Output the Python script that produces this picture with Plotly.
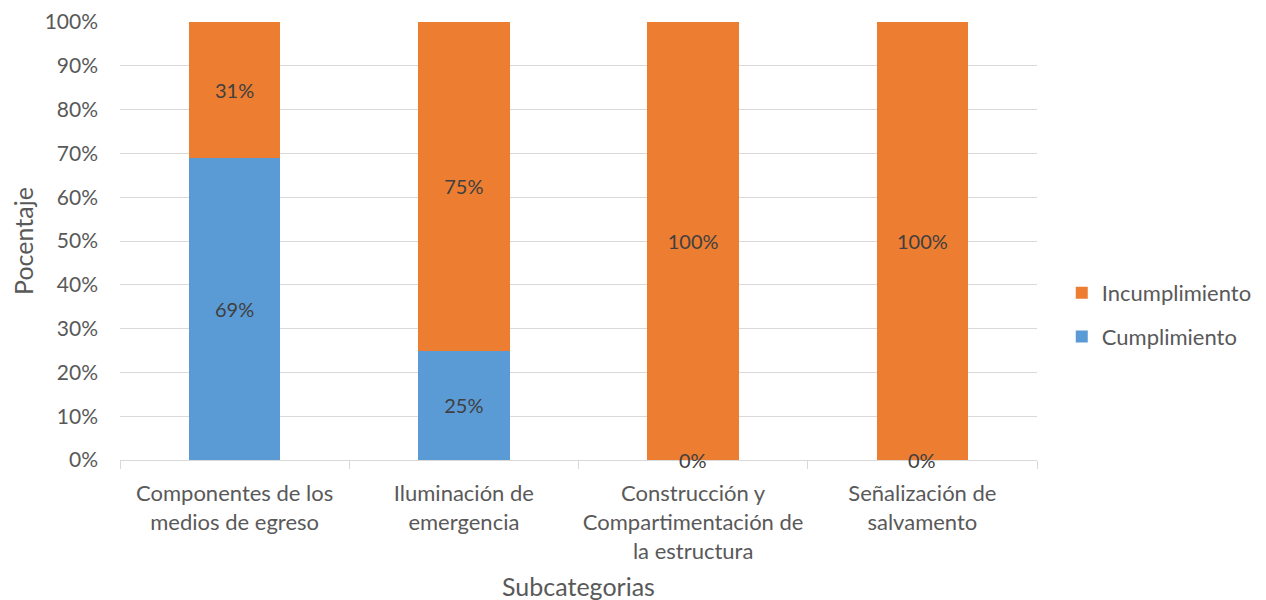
import plotly.graph_objects as go

categories = [
    "Componentes de los<br>medios de egreso",
    "Iluminación de<br>emergencia",
    "Construcción y<br>Compartimentación de<br>la estructura",
    "Señalización de<br>salvamento",
]
cumplimiento = [69, 25, 0, 0]
incumplimiento = [31, 75, 100, 100]
y_ticks = [0, 10, 20, 30, 40, 50, 60, 70, 80, 90, 100]

FONT = "Lato"
TXT = "#595959"
LBL = "#404040"

fig = go.Figure()
fig.add_trace(go.Bar(
    x=categories, y=cumplimiento, name="Cumplimiento", legendgroup="c", legendrank=2,
    marker=dict(color="#5b9bd5", line=dict(width=0)),
    text=[f"{v}%" if v > 0 else "" for v in cumplimiento],
    textposition="inside", insidetextanchor="middle",
    textfont=dict(family=FONT, size=20, color=LBL),
))
fig.add_trace(go.Bar(
    x=categories, y=incumplimiento, name="Incumplimiento", legendgroup="i", legendrank=1,
    marker=dict(color="#ed7d31", line=dict(width=0)),
    text=[f"{v}%" for v in incumplimiento],
    textposition="inside", insidetextanchor="middle",
    textfont=dict(family=FONT, size=20, color=LBL),
))

for c, v in zip(categories, cumplimiento):
    if v == 0:
        fig.add_annotation(x=c, y=v, text=f"{v}%", showarrow=False,
                           yanchor="middle", xanchor="center",
                           font=dict(family=FONT, size=20, color=LBL))

fig.update_layout(
    barmode="stack",
    bargap=0.6,
    width=1266, height=600,
    margin=dict(l=112, r=237, t=14, b=148),
    plot_bgcolor="white", paper_bgcolor="white",
    font=dict(family=FONT, size=21, color=TXT),
    uniformtext=dict(minsize=10, mode="show"),
    legend=dict(traceorder="grouped", x=1.027, y=0.331, xanchor="left", yanchor="middle",
                font=dict(family=FONT, size=22, color=TXT), itemsizing="constant",
                tracegroupgap=12, itemwidth=30),
    xaxis=dict(
        automargin=False,
        title=dict(text="Subcategorias", font=dict(family=FONT, size=25, color=TXT), standoff=15),
        showline=True, linecolor="#d9d9d9", linewidth=1,
        ticks="outside", tickcolor="#d9d9d9", ticklen=8,
        tickson="boundaries", showgrid=False, tickangle=0,
        tickfont=dict(family=FONT, size=22, color=TXT),
        ticklabelstandoff=14,
    ),
    yaxis=dict(
        automargin=False,
        title=dict(text="Pocentaje", font=dict(family=FONT, size=25, color=TXT), standoff=12),
        range=[0, 100], tickvals=y_ticks,
        ticktext=[f"{t}%" for t in y_ticks],
        showgrid=True, gridcolor="#d9d9d9", gridwidth=1,
        zeroline=False, showline=False,
        tickfont=dict(family=FONT, size=21, color=TXT),
        ticklabelstandoff=21,
    ),
)

fig.write_html("out.html")
